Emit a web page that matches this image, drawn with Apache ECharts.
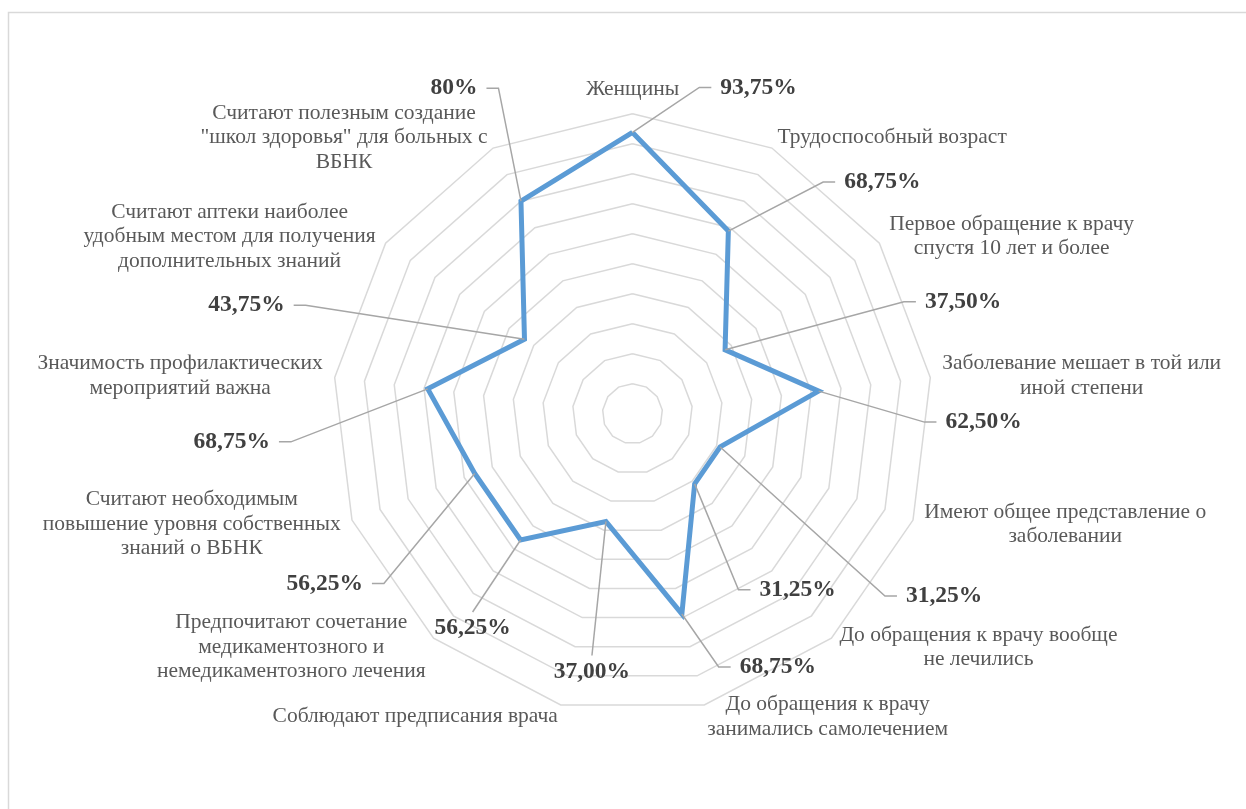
<!DOCTYPE html>
<html>
<head>
<meta charset="utf-8">
<script src="https://cdn.jsdelivr.net/npm/echarts@6/dist/echarts.min.js"></script>
<style>
  html, body { margin: 0; padding: 0; background: #ffffff; }
  #chart { width: 1246px; height: 809px; }
</style>
</head>
<body>
<div id="chart"></div>
<script>
// Axes of the radar, listed clockwise starting from the top
const categories = [
  'Женщины',
  'Трудоспособный возраст',
  'Первое обращение к врачу\nспустя 10 лет и более',
  'Заболевание мешает в той или\nиной степени',
  'Имеют общее представление о\nзаболевании',
  'До обращения к врачу вообще\nне лечились',
  'До обращения к врачу\nзанимались самолечением',
  'Соблюдают предписания врача',
  'Предпочитают сочетание\nмедикаментозного и\nнемедикаментозного лечения',
  'Считают необходимым\nповышение уровня собственных\nзнаний о ВБНК',
  'Значимость профилактических\nмероприятий важна',
  'Считают аптеки наиболее\nудобным местом для получения\nдополнительных знаний',
  'Считают полезным создание\n"школ здоровья" для больных с\nВБНК'
];

// Share of respondents, %
const values = [93.75, 68.75, 37.5, 62.5, 31.25, 31.25, 68.75, 37, 56.25, 56.25, 68.75, 43.75, 80];

// Decimal places shown in each value label
const valueDecimals = [2, 2, 2, 2, 2, 2, 2, 2, 2, 2, 2, 2, 0];

// Value-label placement: offset from the point and the side the leader line attaches to
const labelPlacement = [
  [126, -45, 'l'], [154, -49, 'l'], [238, -48, 'l'], [165, 31, 'l'],
  [224, 149, 'l'], [103, 106, 'l'], [96, 53, 'l'], [-14, 150, 't'],
  [-48, 88, 't'], [-150, 110, 'r'], [-196, 53, 'r'], [-278, -34, 'r'],
  [-67, -113, 'r']
];

const CENTER = [632.5, 413.7];
const RADIUS = 300;
const SERIF = '"Liberation Serif", "Times New Roman", serif';
const VALUE_FONT_SIZE = 23.5;
const NAME_FONT_SIZE = 21.5;

// ECharts radar lays indicators counter-clockwise; reorder so they run clockwise
const n = categories.length;
const radarOrder = [0];
for (let k = n - 1; k >= 1; k--) radarOrder.push(k);

const measureCtx = document.createElement('canvas').getContext('2d');
function textWidth(text) {
  measureCtx.font = 'bold ' + VALUE_FONT_SIZE + 'px ' + SERIF;
  return measureCtx.measureText(text).width;
}

function formatValue(i) {
  return values[i].toFixed(valueDecimals[i]).replace('.', ',') + '%';
}

const chart = echarts.init(document.getElementById('chart'), null, { renderer: 'canvas' });

chart.setOption({
  animation: false,
  backgroundColor: '#ffffff',
  graphic: [{
    type: 'rect',
    silent: true,
    z: -10,
    shape: { x: 8.5, y: 12.5, width: 1300, height: 900 },
    style: { fill: 'none', stroke: '#d9d9d9', lineWidth: 1.5 }
  }],
  radar: {
    center: CENTER,
    radius: RADIUS,
    startAngle: 90,
    shape: 'polygon',
    splitNumber: 10,
    axisNameGap: 12,
    indicator: radarOrder.map(i => ({ name: categories[i], min: 0, max: 100 })),
    axisName: {
      color: '#595959',
      fontFamily: SERIF,
      fontSize: NAME_FONT_SIZE,
      formatter: name => name.split('\n').map(line => '{c|' + line + '}').join('\n'),
      rich: {
        c: { align: 'center', color: '#595959', fontFamily: SERIF, fontSize: NAME_FONT_SIZE, lineHeight: 24.5 }
      }
    },
    axisLine: { show: false },
    axisTick: { show: false },
    axisLabel: { show: false },
    splitArea: { show: false },
    splitLine: { lineStyle: { color: '#d9d9d9', width: 1.5 } }
  },
  polar: { center: CENTER, radius: RADIUS },
  angleAxis: { type: 'value', min: 0, max: n, startAngle: 90, clockwise: true, show: false },
  radiusAxis: { type: 'value', min: 0, max: 100, show: false },
  series: [
    {
      type: 'radar',
      symbol: 'none',
      silent: true,
      lineStyle: { color: '#5b9bd5', width: 5, join: 'miter' },
      data: [{ value: radarOrder.map(i => values[i]) }]
    },
    {
      // value labels with leader lines, anchored on the same points
      type: 'custom',
      coordinateSystem: 'polar',
      silent: true,
      data: values.map((v, i) => [v, i]),
      renderItem: function (params, api) {
        const i = params.dataIndex;
        const p = api.coord([api.value(0), api.value(1)]);
        const place = labelPlacement[i];
        const text = formatValue(i);
        const halfW = textWidth(text) / 2;
        const lx = p[0] + place[0];
        const ly = p[1] + place[1];
        const gap = 9, stub = 12;
        let pts;
        if (place[2] === 'l') {
          const ex = lx - halfW - gap;
          pts = [[p[0], p[1]], [ex - stub, ly], [ex, ly]];
        } else if (place[2] === 'r') {
          const ex = lx + halfW + gap;
          pts = [[p[0], p[1]], [ex + stub, ly], [ex, ly]];
        } else {
          pts = [[p[0], p[1]], [lx, ly - 16]];
        }
        return {
          type: 'group',
          children: [
            {
              type: 'polyline',
              shape: { points: pts },
              style: { stroke: '#a6a6a6', lineWidth: 1.5, fill: null }
            },
            {
              type: 'text',
              x: lx,
              y: ly,
              style: {
                text: text,
                fill: '#404040',
                fontFamily: SERIF,
                fontSize: VALUE_FONT_SIZE,
                fontWeight: 'bold',
                align: 'center',
                verticalAlign: 'middle'
              }
            }
          ]
        };
      }
    }
  ]
});
</script>
</body>
</html>
